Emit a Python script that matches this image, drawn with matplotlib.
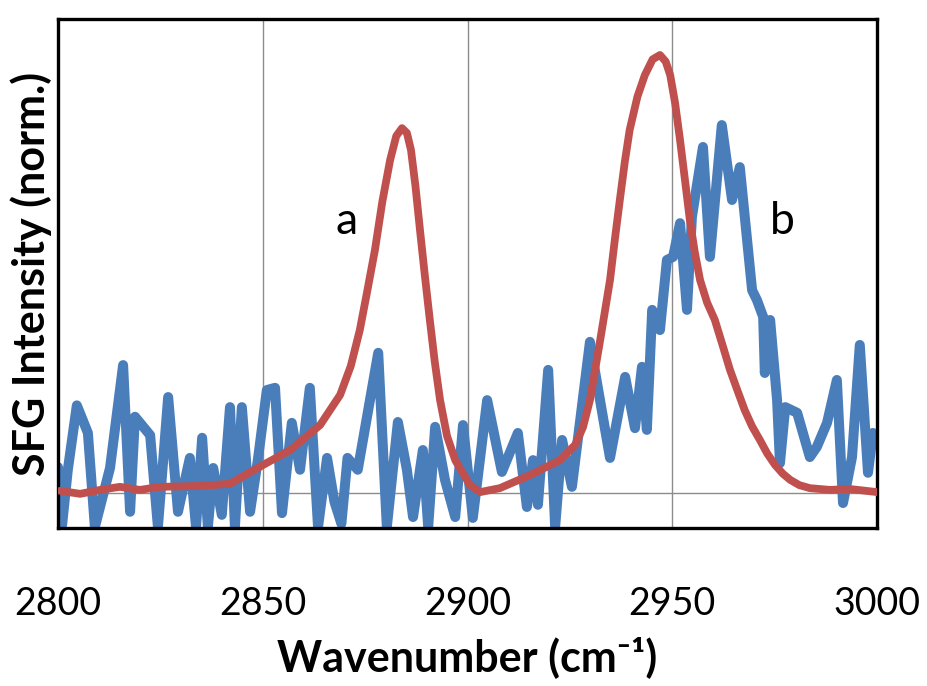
import matplotlib
matplotlib.use("Agg")
import matplotlib.pyplot as plt

# Spectrum b (blue, noisy)
blue_x = [2800.0, 2801.0, 2802.4, 2804.6, 2807.3, 2809.0, 2812.7, 2815.9, 2817.6, 2818.8,
          2822.5, 2824.4, 2826.9, 2829.3, 2832.2, 2833.7, 2835.2, 2836.6, 2837.9, 2840.0,
          2842.0, 2843.2, 2844.9, 2846.9, 2848.8, 2851.0, 2853.0, 2854.7, 2857.1, 2859.1,
          2861.5, 2863.5, 2865.7, 2867.5, 2869.2, 2870.7, 2873.2, 2878.2, 2880.3, 2883.0,
          2885.2, 2886.7, 2889.1, 2890.4, 2892.1, 2894.5, 2897.0, 2898.9, 2901.3, 2904.8,
          2908.4, 2912.3, 2914.5, 2916.0, 2917.2, 2919.7, 2921.4, 2923.1, 2925.5, 2929.9,
          2934.8, 2938.5, 2940.9, 2942.6, 2943.8, 2945.1, 2947.0, 2948.7, 2950.2, 2951.9,
          2953.6, 2954.8, 2957.5, 2959.2, 2962.1, 2964.6, 2966.5, 2969.5, 2970.7, 2972.2,
          2972.6, 2973.9, 2975.6, 2976.3, 2977.6, 2980.5, 2983.6, 2985.3, 2987.8, 2990.2,
          2991.7, 2993.9, 2995.8, 2997.8, 2999.0, 3000.0]
blue_y = [0.059, -0.073, 0.053, 0.200, 0.137, -0.078, 0.057, 0.292, -0.043, 0.174,
          0.132, -0.078, 0.219, -0.043, 0.080, -0.078, 0.126, -0.078, 0.057, -0.050,
          0.196, -0.078, 0.196, -0.043, 0.075, 0.235, 0.240, -0.046, 0.160, 0.053,
          0.240, -0.078, 0.080, -0.020, -0.070, 0.080, 0.053, 0.320, -0.078, 0.162,
          0.053, -0.055, 0.098, -0.078, 0.151, 0.030, -0.055, 0.155, -0.057, 0.212,
          0.048, 0.137, -0.032, 0.075, -0.027, 0.281, -0.078, 0.121, 0.014, 0.345,
          0.080, 0.265, 0.148, 0.288, 0.144, 0.418, 0.372, 0.532, 0.539, 0.616,
          0.418, 0.630, 0.790, 0.539, 0.840, 0.669, 0.744, 0.463, 0.440, 0.402,
          0.274, 0.395, 0.212, 0.068, 0.196, 0.183, 0.082, 0.105, 0.160, 0.258,
          -0.023, 0.082, 0.338, 0.046, 0.137, 0.121]

# Spectrum a (red, smooth)
red_x = [2800.5, 2805.4, 2810.3, 2815.1, 2820.0, 2824.9, 2834.7, 2842.0, 2845.7, 2850.1,
         2856.7, 2864.0, 2868.9, 2871.5, 2873.7, 2875.5, 2877.4, 2879.2, 2881.1, 2882.6,
         2884.0, 2885.2, 2886.2, 2887.3, 2888.4, 2889.6, 2890.8, 2892.0, 2893.3, 2895.0,
         2897.0, 2900.6, 2903.1, 2907.9, 2915.3, 2922.6, 2926.3, 2928.2, 2929.9, 2932.4,
         2934.8, 2936.0, 2937.2, 2938.4, 2939.6, 2941.5, 2943.3, 2945.2, 2947.0, 2948.4,
         2949.5, 2950.7, 2951.9, 2953.1, 2954.3, 2955.5, 2956.8, 2958.5, 2960.4, 2962.2,
         2964.1, 2966.0, 2967.7, 2969.5, 2971.4, 2973.2, 2975.1, 2977.0, 2978.8, 2981.0,
         2983.6, 2988.5, 2993.4, 3000.0]
red_y = [0.005, -0.002, 0.007, 0.014, 0.007, 0.014, 0.016, 0.021, 0.041, 0.064,
         0.098, 0.155, 0.224, 0.290, 0.372, 0.460, 0.555, 0.665, 0.760, 0.815,
         0.833, 0.822, 0.783, 0.700, 0.600, 0.495, 0.395, 0.300, 0.212, 0.130,
         0.075, 0.018, 0.002, 0.011, 0.041, 0.075, 0.110, 0.150, 0.212, 0.349,
         0.486, 0.580, 0.669, 0.755, 0.829, 0.905, 0.954, 0.990, 1.000, 0.985,
         0.954, 0.890, 0.806, 0.715, 0.623, 0.550, 0.486, 0.435, 0.395, 0.340,
         0.281, 0.232, 0.189, 0.152, 0.121, 0.090, 0.064, 0.044, 0.030, 0.018,
         0.011, 0.007, 0.009, 0.002]

x_ticks = [2800, 2850, 2900, 2950, 3000]
x_label = "Wavenumber (cm\u207b\u00b9)"
y_label = "SFG Intensity (norm.)"
labels = [("a", 2870.5, 0.62), ("b", 2976.8, 0.62)]

FAM = ["Lato", "DejaVu Sans"]
plt.rcParams["font.family"] = FAM

fig = plt.figure(figsize=(9.28, 6.86), dpi=100)
ax = fig.add_axes([58 / 928, 1 - 528 / 686, (877 - 58) / 928, (528 - 19) / 686])

for v in [2850, 2900, 2950]:
    ax.axvline(v, color="#8c8c8c", lw=1.0, zorder=1)
ax.axhline(0, color="#8c8c8c", lw=1.0, zorder=1)

ax.plot(blue_x, blue_y, color="#4a7ebb", lw=7.2, solid_joinstyle="round",
        solid_capstyle="round", zorder=2)
ax.plot(red_x, red_y, color="#c0504d", lw=5.6, solid_joinstyle="round",
        solid_capstyle="round", zorder=3)

for t, xx, yy in labels:
    ax.text(xx, yy, t, fontsize=32, ha="center", va="center", color="black", zorder=4)

ax.set_xlim(2800, 3000)
ax.set_ylim(-0.08, (493 - 19) / 438)
ax.set_xticks(x_ticks)
ax.set_xticklabels([str(t) for t in x_ticks], fontsize=27)
ax.set_yticks([])
ax.tick_params(axis="x", length=0, pad=42)
for s in ax.spines.values():
    s.set_linewidth(2.4)
    s.set_color("black")
ax.set_xlabel(x_label, fontsize=31, fontweight="bold", labelpad=10)
ax.set_ylabel(y_label, fontsize=31, fontweight="bold", labelpad=4)

fig.savefig("out.png", dpi=100)
